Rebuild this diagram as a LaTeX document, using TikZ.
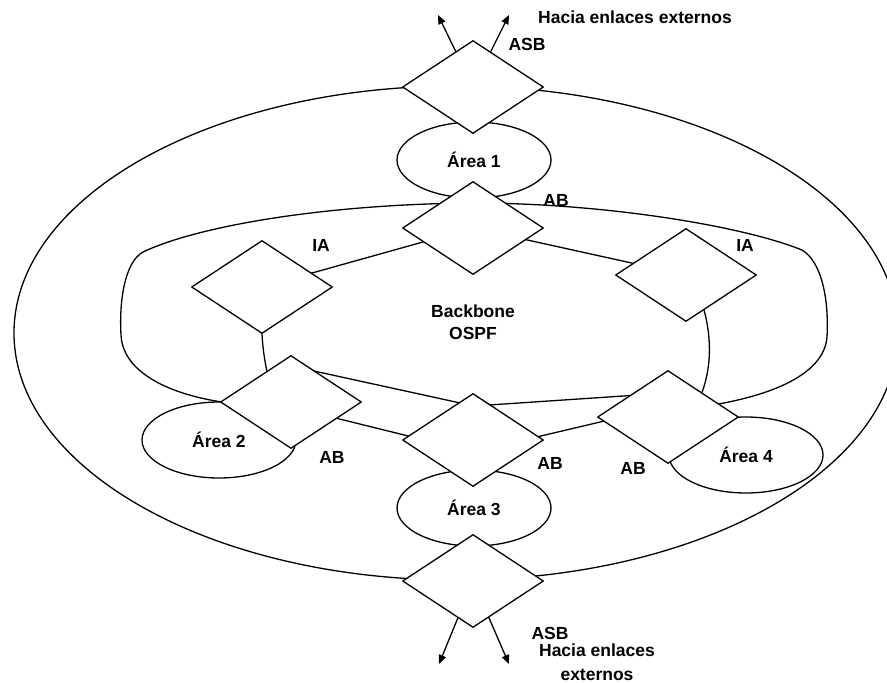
\documentclass[tikz,border=0pt]{standalone}
\usepackage{fontspec}
\setmainfont{Liberation Sans}
\usetikzlibrary{shapes.geometric,arrows.meta,calc}

\begin{document}
\begin{tikzpicture}[x=1pt,y=-1pt,
  line width=1.3pt, line join=round,
  router/.style={diamond, draw, fill=white, inner sep=0pt,
    minimum width=141pt, minimum height=93pt},
  area/.style={ellipse, draw, inner sep=0pt,
    minimum width=154pt, minimum height=76pt, font=\lbl},
  lab/.style={font=\lbl, inner sep=0pt},
  ext/.style={-{Triangle[length=9pt,width=7.5pt]}}
]
\newcommand{\lbl}{\bfseries\fontsize{17.5}{22}\selectfont}
\useasboundingbox (0,0) rectangle (887,683);
\clip (0,0) rectangle (887,683);

% router positions
\coordinate (pasbtop) at (473,87);
\coordinate (pabtop)  at (473,228);
\coordinate (pialeft) at (262,287);
\coordinate (piaright) at (686,275);
\coordinate (pab2) at (291,402);
\coordinate (pab3) at (473,440);
\coordinate (pab4) at (668,417);
\coordinate (pasbbot) at (473,581);

% autonomous system boundary
\draw (456,333) ellipse [x radius=442, y radius=247];

% areas
\node[area] (area1) at (474,160) {Área 1};
\node[area] (area2) at (219,440) {Área 2};
\node[area] (area3) at (474,508) {Área 3};
\node[area] (area4) at (746,455) {Área 4};

% backbone outline
\draw ($(pabtop)+(0,-25)$) .. controls (330,204) and (200,225) .. (143,252)
      .. controls (125,262) and (119,300) .. (121,335)
      .. controls (123,375) and (175,395) .. ($(pab2)+(-69,0)$);
\draw ($(pabtop)+(0,-25)$) .. controls (600,203) and (740,225) .. (802,250)
      .. controls (822,262) and (829,300) .. (827,337)
      .. controls (824,375) and (770,397) .. ($(pab4)+(32,-10)$);
\draw ($(pab2)+(0,-36)$) -- ($(pab3)+(1,-34)$) -- ($(pab4)+(0,-24)$);
\draw ($(pab2)+(0,5)$) -- ($(pab3)+(0,12)$) -- ($(pab4)+(0,-11)$);

% internal links
\draw (pabtop) -- (pialeft);
\draw (pabtop) -- (piaright);
\draw ($(pialeft)+(0,47)$) .. controls (263,352) and (265,362) .. ($(pab2)+(-22,-20)$);
\draw ($(piaright)+(16,28)$) .. controls (712,335) and (713,370) .. ($(pab4)+(30,-15)$);

% links to external networks
\coordinate (e1) at (438,15);
\coordinate (e2) at (509,15);
\coordinate (e3) at (439,664);
\coordinate (e4) at (509,664);
\draw[ext] (pasbtop) -- (e1);
\draw[ext] (pasbtop) -- (e2);
\draw[ext] (pasbbot) -- (e3);
\draw[ext] (pasbbot) -- (e4);

% routers
\node[router] (asbtop) at (pasbtop) {};
\node[router] (abtop) at (pabtop) {};
\node[router] (ialeft) at (pialeft) {};
\node[router] (iaright) at (piaright) {};
\node[router] (ab2) at (pab2) {};
\node[router] (ab3) at (pab3) {};
\node[router] (ab4) at (pab4) {};
\node[router] (asbbot) at (pasbbot) {};

% labels
\node[lab] (t1) at (635,17) {Hacia enlaces externos};
\node[lab] (t2) at (527,44) {ASB};
\node[lab] (t3) at (556,200) {AB};
\node[lab] (t4) at (321,245) {IA};
\node[lab] (t5) at (745,245) {IA};
\node[lab, align=center] (t6) at (473,322) {Backbone\\OSPF};
\node[lab] (t7) at (332,457) {AB};
\node[lab] (t8) at (550,463) {AB};
\node[lab] (t9) at (633,468) {AB};
\node[lab] (t10) at (550,633) {ASB};
\node[lab, align=center, font=\bfseries\fontsize{17.5}{24}\selectfont] (t11) at (597,662) {Hacia enlaces\\externos};
\end{tikzpicture}
\end{document}
